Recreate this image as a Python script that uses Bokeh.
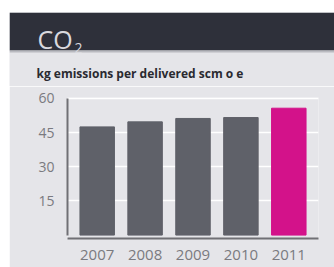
from bokeh.plotting import figure
from bokeh.models import ColumnDataSource, Label, FactorRange, FixedTicker, BoxAnnotation, Spacer
from bokeh.layouts import column, row
from bokeh.embed import file_html
from bokeh.resources import INLINE

years = ["2007", "2008", "2009", "2010", "2011"]
emissions = [47.5, 49.7, 51.2, 51.6, 55.7]
y_ticks = [15, 30, 45, 60]
title_main = "CO"
title_sub = "2"
subtitle = "kg emissions per delivered scm o e"

GRAY_BAR = "#5f6169"
MAGENTA = "#d3128a"
DARK = "#2e303a"
LIGHT = "#e5e5e9"
FONT = "Open Sans"

bar_colors = [MAGENTA if y == "2011" else GRAY_BAR for y in years]
src = ColumnDataSource(dict(year=years, value=emissions, color=bar_colors))

# header panel (dark band + subtitle); ranges set to pixel units of the frame
HW, HH = 325, 74
h = figure(width=HW + 9, height=HH + 12, output_backend="svg", toolbar_location=None,
           x_range=(0, HW), y_range=(0, HH),
           min_border_left=9, min_border_right=0, min_border_top=12, min_border_bottom=0,
           background_fill_color=LIGHT, border_fill_color="white", outline_line_color=None)
h.frame_align = False
h.axis.visible = False
h.grid.visible = False
h.add_layout(BoxAnnotation(bottom=36, top=HH, fill_color=DARK, fill_alpha=1, line_color=None))
h.add_layout(BoxAnnotation(bottom=34, top=36, fill_color="#b9bac0", fill_alpha=1, line_color=None))
h.add_layout(Label(x=28, y=48, text=title_main, text_font=FONT, text_font_size="25px",
                   text_color="#d9d9de", text_baseline="alphabetic"))
h.add_layout(Label(x=65, y=39, text=title_sub, text_font=FONT, text_font_size="14px",
                   text_color="#d9d9de", text_baseline="alphabetic"))
h.add_layout(Label(x=27, y=13, text=subtitle, text_font=FONT, text_font_size="12px",
                   text_font_style="bold", text_color="#2a2a30", text_baseline="alphabetic"))

# main chart
p = figure(width=325, height=181, output_backend="svg", toolbar_location=None,
           x_range=FactorRange(*years, range_padding=0.12, range_padding_units="absolute"),
           y_range=(-1.5, 60.4),
           min_border_left=58, min_border_right=16, min_border_top=11, min_border_bottom=29,
           background_fill_color=LIGHT, border_fill_color=LIGHT, outline_line_color=None)
p.frame_align = False

p.vbar(x="year", top="value", bottom=0, width=0.72, color="color", source=src)

p.xgrid.visible = False
p.ygrid.grid_line_color = "white"
p.ygrid.grid_line_width = 1.5
p.yaxis.ticker = FixedTicker(ticks=y_ticks)
p.yaxis.bounds = (0, 60)

for ax in (p.xaxis, p.yaxis):
    ax.major_tick_line_color = None
    ax.minor_tick_line_color = None
    ax.axis_line_color = "#707075"
    ax.axis_line_width = 2
    ax.major_label_text_font = FONT
    ax.major_label_text_color = "#7a7a7f"

p.yaxis.major_label_text_font_size = "14px"
p.yaxis.major_label_standoff = 7
p.xaxis.major_label_text_font_size = "15px"
p.xaxis.major_label_standoff = 5

layout = column(h, row(Spacer(width=9, height=181), p))
open("out.html", "w").write(file_html(layout, INLINE))
